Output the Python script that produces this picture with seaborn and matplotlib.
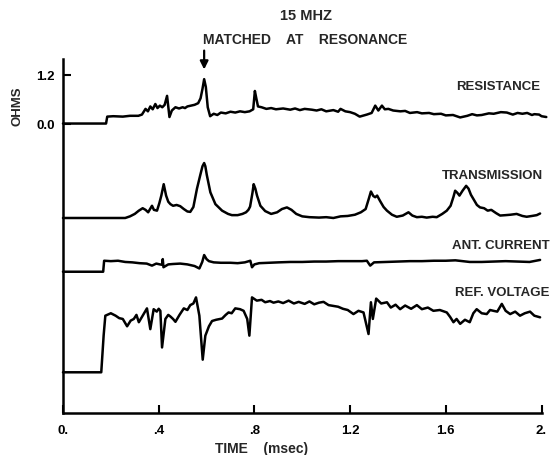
import matplotlib
matplotlib.use("Agg")
import matplotlib.pyplot as plt
import seaborn as sns
import pandas as pd

# ---- data (time in msec, values in chart units; traces offset as in the original) ----
res_t = [0, 0.18, 0.185, 0.21, 0.25, 0.28, 0.315, 0.33, 0.345, 0.355, 0.365, 0.375, 0.386,
         0.395, 0.405, 0.415, 0.425, 0.435, 0.445, 0.455, 0.47, 0.485, 0.50, 0.51, 0.52,
         0.535, 0.55, 0.565, 0.575, 0.583, 0.59, 0.597, 0.605, 0.615, 0.63, 0.645, 0.66,
         0.68, 0.70, 0.72, 0.74, 0.76, 0.78, 0.795, 0.802, 0.808, 0.815, 0.83, 0.85, 0.87,
         0.89, 0.92, 0.95, 0.97, 0.99, 1.01, 1.04, 1.06, 1.08, 1.10, 1.13, 1.15, 1.16, 1.18,
         1.20, 1.22, 1.24, 1.27, 1.29, 1.305, 1.318, 1.333, 1.345, 1.36, 1.38, 1.41, 1.43,
         1.45, 1.48, 1.50, 1.53, 1.55, 1.58, 1.60, 1.63, 1.66, 1.69, 1.71, 1.73, 1.75, 1.78,
         1.80, 1.83, 1.855, 1.88, 1.90, 1.92, 1.94, 1.96, 1.97, 1.99, 2.0, 2.02]
res_v = [0, 0, 0.17, 0.18, 0.17, 0.19, 0.19, 0.22, 0.36, 0.30, 0.42, 0.35, 0.48,
         0.38, 0.44, 0.40, 0.46, 0.68, 0.16, 0.32, 0.40, 0.37, 0.40, 0.38, 0.42,
         0.44, 0.46, 0.50, 0.62, 0.85, 1.09, 0.90, 0.40, 0.18, 0.24, 0.21, 0.27,
         0.25, 0.29, 0.27, 0.30, 0.28, 0.30, 0.35, 0.80, 0.62, 0.42, 0.40, 0.36, 0.38,
         0.35, 0.37, 0.34, 0.37, 0.33, 0.36, 0.34, 0.32, 0.35, 0.30, 0.33, 0.29, 0.36, 0.30,
         0.28, 0.24, 0.17, 0.22, 0.26, 0.44, 0.32, 0.44, 0.35, 0.36, 0.32, 0.30, 0.31,
         0.26, 0.28, 0.25, 0.26, 0.23, 0.24, 0.20, 0.21, 0.15, 0.19, 0.23, 0.20, 0.21, 0.25,
         0.24, 0.28, 0.27, 0.22, 0.26, 0.24, 0.26, 0.21, 0.23, 0.22, 0.18, 0.16]

trn_t = [0, 0.26, 0.28, 0.30, 0.317, 0.333, 0.345, 0.356, 0.364, 0.372, 0.38, 0.393, 0.403,
         0.411, 0.421, 0.431, 0.44, 0.449, 0.46, 0.475, 0.49, 0.505, 0.52, 0.532, 0.545,
         0.56, 0.574, 0.583, 0.59, 0.595, 0.601, 0.616, 0.637, 0.665, 0.69, 0.706, 0.73,
         0.75, 0.765, 0.775, 0.782, 0.792, 0.797, 0.804, 0.811, 0.825, 0.845, 0.87, 0.895,
         0.915, 0.936, 0.955, 0.975, 1.0, 1.03, 1.07, 1.10, 1.13, 1.16, 1.19, 1.22, 1.245,
         1.265, 1.278, 1.287, 1.297, 1.305, 1.313, 1.325, 1.34, 1.354, 1.375, 1.395, 1.42,
         1.444, 1.46, 1.479, 1.50, 1.52, 1.545, 1.562, 1.585, 1.604, 1.62, 1.632, 1.639,
         1.648, 1.657, 1.67, 1.685, 1.695, 1.705, 1.715, 1.73, 1.743, 1.76, 1.775, 1.79,
         1.81, 1.827, 1.85, 1.87, 1.896, 1.92, 1.938, 1.96, 1.98, 1.994]
trn_v = [-2.32, -2.32, -2.28, -2.22, -2.14, -2.08, -2.12, -2.18, -2.10, -2.02, -2.12, -2.14,
         -1.95, -1.77, -1.49, -1.77, -1.92, -1.98, -2.02, -2.00, -2.03, -2.10, -2.16, -2.17,
         -2.05, -1.60, -1.26, -1.05, -0.97, -1.05, -1.26, -1.69, -1.98, -2.14, -2.22, -2.25,
         -2.25, -2.22, -2.18, -2.12, -2.04, -1.70, -1.49, -1.60, -1.77, -2.02, -2.15, -2.22,
         -2.18, -2.10, -2.06, -2.12, -2.22, -2.28, -2.30, -2.31, -2.30, -2.32, -2.28, -2.27,
         -2.24, -2.18, -2.10, -1.85, -1.67, -1.78, -1.81, -1.77, -1.90, -2.05, -2.14, -2.24,
         -2.29, -2.26, -2.18, -2.26, -2.30, -2.29, -2.31, -2.29, -2.30, -2.22, -2.14, -2.02,
         -1.80, -1.65, -1.70, -1.77, -1.65, -1.53, -1.60, -1.75, -1.85, -2.00, -2.06, -2.08,
         -2.14, -2.12, -2.20, -2.26, -2.25, -2.24, -2.22, -2.27, -2.29, -2.27, -2.25, -2.21]

cur_t = [0, 0.168, 0.172, 0.20, 0.23, 0.26, 0.29, 0.32, 0.35, 0.372, 0.39, 0.405, 0.415,
         0.417, 0.42, 0.44, 0.46, 0.49, 0.52, 0.55, 0.57, 0.582, 0.59, 0.60, 0.61, 0.63,
         0.66, 0.70, 0.73, 0.76, 0.783, 0.79, 0.80, 0.82, 0.86, 0.90, 0.95, 1.0, 1.05, 1.1,
         1.15, 1.2, 1.25, 1.27, 1.284, 1.30, 1.35, 1.40, 1.45, 1.50, 1.55, 1.60, 1.64, 1.67,
         1.70, 1.75, 1.80, 1.85, 1.90, 1.95, 1.994]
cur_v = [-3.64, -3.64, -3.37, -3.38, -3.37, -3.40, -3.41, -3.43, -3.44, -3.49, -3.44, -3.46,
         -3.47, -3.33, -3.53, -3.46, -3.45, -3.44, -3.46, -3.50, -3.56, -3.40, -3.23, -3.33,
         -3.38, -3.41, -3.42, -3.42, -3.43, -3.41, -3.37, -3.53, -3.46, -3.43, -3.42, -3.41,
         -3.40, -3.40, -3.39, -3.39, -3.38, -3.38, -3.38, -3.37, -3.49, -3.41, -3.40, -3.39,
         -3.38, -3.38, -3.37, -3.37, -3.36, -3.38, -3.40, -3.40, -3.39, -3.38, -3.39, -3.40,
         -3.35]

ref_t = [0, 0.16, 0.17, 0.177, 0.20, 0.22, 0.235, 0.25, 0.268, 0.283, 0.296, 0.307, 0.317,
         0.335, 0.351, 0.365, 0.379, 0.392, 0.40, 0.407, 0.414, 0.428, 0.44, 0.449, 0.46,
         0.47, 0.487, 0.505, 0.52, 0.532, 0.545, 0.556, 0.57, 0.584, 0.595, 0.61, 0.623,
         0.64, 0.665, 0.68, 0.692, 0.705, 0.72, 0.74, 0.755, 0.77, 0.779, 0.79, 0.81, 0.83,
         0.845, 0.865, 0.88, 0.90, 0.92, 0.943, 0.965, 0.985, 1.01, 1.03, 1.05, 1.07, 1.089,
         1.11, 1.13, 1.15, 1.17, 1.19, 1.214, 1.235, 1.256, 1.277, 1.287, 1.295, 1.309, 1.33,
         1.354, 1.37, 1.39, 1.409, 1.43, 1.455, 1.479, 1.50, 1.525, 1.548, 1.575, 1.604,
         1.618, 1.632, 1.645, 1.66, 1.68, 1.70, 1.715, 1.729, 1.75, 1.771, 1.785, 1.799,
         1.815, 1.834, 1.85, 1.869, 1.89, 1.91, 1.93, 1.952, 1.97, 1.994]
ref_v = [-6.11, -6.11, -5.20, -4.72, -4.66, -4.72, -4.78, -4.80, -4.98, -4.84, -4.80, -4.70,
         -4.88, -4.70, -4.54, -5.05, -4.56, -4.62, -4.55, -4.60, -5.50, -4.80, -4.70, -4.74,
         -4.80, -4.87, -4.70, -4.54, -4.58, -4.46, -4.42, -4.27, -4.72, -5.80, -5.21, -4.98,
         -4.85, -4.82, -4.79, -4.70, -4.64, -4.66, -4.54, -4.56, -4.60, -4.80, -5.21, -4.27,
         -4.35, -4.33, -4.39, -4.36, -4.40, -4.37, -4.41, -4.35, -4.42, -4.38, -4.43, -4.37,
         -4.44, -4.40, -4.38, -4.46, -4.48, -4.50, -4.55, -4.58, -4.68, -4.60, -4.64, -5.17,
         -4.39, -4.80, -4.30, -4.42, -4.39, -4.52, -4.45, -4.56, -4.47, -4.55, -4.46, -4.56,
         -4.52, -4.60, -4.58, -4.64, -4.75, -4.88, -4.80, -4.92, -4.82, -4.88, -4.66, -4.56,
         -4.66, -4.68, -4.58, -4.60, -4.62, -4.43, -4.60, -4.68, -4.62, -4.72, -4.66, -4.62,
         -4.72, -4.76]

trace_names = ["RESISTANCE", "TRANSMISSION", "ANT. CURRENT", "REF. VOLTAGE"]
x_ticks = [0, 0.4, 0.8, 1.2, 1.6, 2.0]
x_tick_labels = ["0.", ".4", ".8", "1.2", "1.6", "2."]
y_ticks = [0.0, 1.2]
y_tick_labels = ["0.0", "1.2"]

# ---- build long table ----
frames = []
for name, t, v in zip(trace_names, [res_t, trn_t, cur_t, ref_t], [res_v, trn_v, cur_v, ref_v]):
    assert len(t) == len(v), name
    frames.append(pd.DataFrame({"time": t, "value": v, "trace": name}))
df = pd.concat(frames, ignore_index=True)

sns.set_style("ticks")
plt.rcParams["font.family"] = ["Liberation Sans", "DejaVu Sans"]
plt.rcParams["font.weight"] = "bold"

fig = plt.figure(figsize=(5.51, 4.56), dpi=100)
ax = fig.add_axes([0.1143, 0.0921, 0.8685, 0.7763])

sns.lineplot(data=df, x="time", y="value", units="trace", estimator=None, sort=False,
             color="black", linewidth=1.8, ax=ax, clip_on=False)

ax.set_xlim(0, 2.0)
ax.set_ylim(-7.11, 1.585)
for s in ["top", "right"]:
    ax.spines[s].set_visible(False)
for s in ["left", "bottom"]:
    ax.spines[s].set_linewidth(1.8)
    ax.spines[s].set_color("black")

ax.set_xticks(x_ticks)
ax.set_xticklabels(x_tick_labels, fontsize=9.5, fontweight="bold")
ax.set_yticks(y_ticks)
ax.set_yticklabels(y_tick_labels, fontsize=9.5, fontweight="bold")
ax.tick_params(axis="both", direction="in", length=6, width=1.5, colors="black", pad=6)
ax.tick_params(axis="x", pad=8)
ax.set_xlabel("")
ax.set_ylabel("")

fig.text(0.4755, 0.016, "TIME    (msec)", ha="center", va="center", fontsize=10,
         fontweight="bold")
fig.text(0.031, 0.768, "OHMS", ha="center", va="center", rotation=90, fontsize=9.5,
         fontweight="bold")

label_pos = {"RESISTANCE": (1.995, 0.93), "TRANSMISSION": (2.005, -1.27),
             "ANT. CURRENT": (2.035, -2.99), "REF. VOLTAGE": (2.035, -4.13)}
for name in trace_names:
    x, y = label_pos[name]
    ax.text(x, y, name, ha="right", va="center", fontsize=9.5, fontweight="bold",
            clip_on=False)

ax.annotate("", xy=(0.59, 1.26), xytext=(0.59, 1.86), annotation_clip=False,
            arrowprops=dict(arrowstyle="-|>", lw=1.6, color="black", mutation_scale=12))

fig.text(0.556, 0.965, "15 MHZ", ha="center", va="center", fontsize=10.5, fontweight="bold")
fig.text(0.5535, 0.912, "MATCHED    AT    RESONANCE", ha="center", va="center",
         fontsize=10, fontweight="bold")

fig.savefig("out.png", dpi=100)
